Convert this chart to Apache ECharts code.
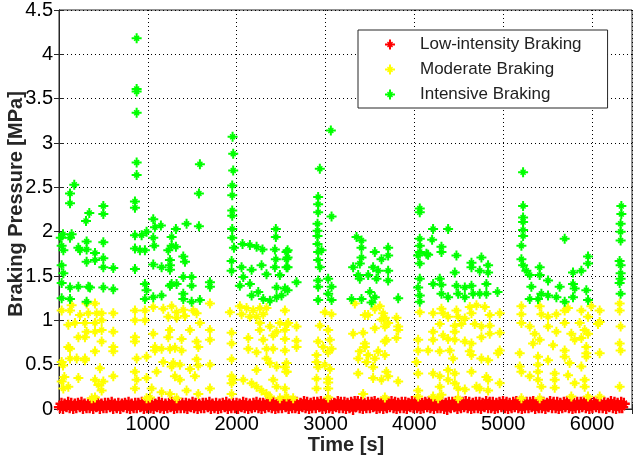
<!DOCTYPE html>
<html>
<head>
<meta charset="utf-8">
<script src="https://cdn.jsdelivr.net/npm/echarts@6/dist/echarts.min.js"></script>
<style>
html, body { margin: 0; padding: 0; background: #fff; }
#chart { width: 635px; height: 466px; }
</style>
</head>
<body>
<div id="chart"></div>
<script>
const seriesNames = ['Low-intensity Braking', 'Moderate Braking', 'Intensive Braking'];
const seriesColors = ['#ff0000', '#ffff00', '#00ff00'];
const xTicks = [1000, 2000, 3000, 4000, 5000, 6000];
const yTicks = [0, 0.5, 1, 1.5, 2, 2.5, 3, 3.5, 4, 4.5];

// low-intensity braking: dense band just above zero
const redTime = [
  10, 45, 85, 120, 160, 195, 235, 270, 310, 345, 385, 420,
  460, 500, 535, 575, 610, 650, 690, 725, 765, 800, 840, 875,
  915, 955, 990, 1030, 1065, 1105, 1140, 1180, 1220, 1255, 1295, 1330,
  1370, 1410, 1445, 1485, 1520, 1560, 1600, 1635, 1675, 1710, 1750, 1790,
  1825, 1865, 1900, 1940, 1980, 2015, 2055, 2090, 2130, 2170, 2205, 2245,
  2280, 2320, 2360, 2395, 2435, 2470, 2510, 2550, 2585, 2625, 2660, 2700,
  2740, 2775, 2815, 2850, 2890, 2930, 2965, 3005, 3040, 3080, 3120, 3155,
  3195, 3230, 3270, 3310, 3345, 3385, 3420, 3460, 3500, 3535, 3575, 3610,
  3650, 3690, 3725, 3765, 3800, 3840, 3880, 3915, 3955, 3990, 4030, 4070,
  4105, 4145, 4180, 4220, 4260, 4295, 4335, 4370, 4410, 4450, 4485, 4525,
  4560, 4600, 4640, 4675, 4715, 4750, 4790, 4830, 4865, 4905, 4940, 4980,
  5020, 5055, 5095, 5130, 5170, 5210, 5245, 5285, 5320, 5360, 5400, 5435,
  5475, 5510, 5550, 5590, 5625, 5665, 5700, 5740, 5780, 5815, 5855, 5890,
  5930, 5970, 6005, 6045, 6080, 6120, 6160, 6195, 6235, 6270, 6310, 6340
];
const redLow = [
  0.02,0.01,0.03,0.02,0.01,0.02,0.03,0.01,0.02,0.02,0.01,0.03,
  0.01,0.02,0.02,0.03,0.01,0.02,0.01,0.03,0.02,0.01,0.02,0.02,
  0.03,0.01,0.02,0.02,0.01,0.03,0.02,0.01,0.02,0.03,0.01,0.02,
  0.02,0.02,0.01,0.03,0.02,0.01,0.02,0.02,0.03,0.01,0.02,0.01,
  0.02,0.03,0.01,0.02,0.02,0.01,0.03,0.02,0.01,0.02,0.03,0.02,
  0.01,0.02,0.03,0.02,0.01,0.02,0.02,0.03,0.01,0.02,0.02,0.01,
  0.03,0.02,0.01,0.02,0.02,0.03,0.01,0.02,0.02,0.01,0.03,0.02,
  0.02,0.01,0.02,0.00,0.03,0.02,0.01,0.02,0.02,0.03,0.01,0.02,
  0.01,0.02,0.03,0.02,0.01,0.02,0.02,0.01,0.03,0.02,0.02,0.01,
  0.02,0.03,0.02,0.01,0.02,0.02,0.01,0.00,0.02,0.03,0.01,0.02,
  0.03,0.02,0.01,0.02,0.02,0.01,0.03,0.02,0.02,0.01,0.02,0.03,
  0.02,0.01,0.02,0.03,0.02,0.01,0.02,0.02,0.03,0.01,0.02,0.02,
  0.01,0.03,0.02,0.02,0.01,0.02,0.03,0.02,0.01,0.02,0.02,0.03,
  0.02,0.01,0.02,0.03,0.02,0.02,0.01,0.03,0.02,0.01,0.02,0.02
];
const redHigh = [
  0.06,0.05,0.07,0.06,0.05,0.06,0.07,0.05,0.06,0.05,0.06,0.07,
  0.05,0.06,0.06,0.07,0.05,0.06,0.05,0.06,0.07,0.05,0.06,0.06,
  0.07,0.05,0.06,0.06,0.05,0.07,0.06,0.05,0.06,0.07,0.05,0.06,
  0.06,0.06,0.05,0.07,0.06,0.05,0.06,0.06,0.07,0.05,0.06,0.05,
  0.06,0.07,0.05,0.06,0.06,0.05,0.07,0.06,0.05,0.06,0.07,0.06,
  0.06,0.07,0.08,0.07,0.06,0.07,0.07,0.08,0.06,0.07,0.07,0.06,
  0.08,0.07,0.06,0.07,0.07,0.08,0.06,0.07,0.07,0.06,0.08,0.07,
  0.07,0.06,0.07,0.08,0.08,0.07,0.06,0.07,0.07,0.08,0.06,0.07,
  0.06,0.07,0.08,0.07,0.06,0.07,0.07,0.06,0.08,0.07,0.07,0.06,
  0.07,0.08,0.07,0.06,0.07,0.07,0.06,0.07,0.07,0.08,0.06,0.07,
  0.08,0.07,0.06,0.07,0.07,0.06,0.08,0.07,0.07,0.06,0.07,0.08,
  0.07,0.06,0.07,0.08,0.07,0.06,0.07,0.07,0.08,0.06,0.07,0.07,
  0.06,0.08,0.07,0.07,0.06,0.07,0.08,0.07,0.06,0.07,0.07,0.08,
  0.07,0.06,0.07,0.08,0.07,0.07,0.06,0.08,0.07,0.06,0.07,0.06
];

// moderate braking [time s, pressure MPa]
const yellowPoints = [
  [30,1.11],[124,1.11],[142,1.17],[311,1.19],[405,1.19],[330,1.08],[424,1.08],[480,1.08],[236,1.06],[292,0.97],
  [405,0.97],[480,1.00],[611,1.08],[105,0.95],[180,0.97],[311,0.87],[405,0.87],[480,0.89],[480,0.76],[218,0.81],
  [292,0.81],[124,0.68],[105,0.70],[611,0.87],[611,0.70],[611,0.65],[405,0.65],[30,0.53],[124,0.57],[199,0.57],
  [292,0.57],[292,0.55],[218,0.35],[461,0.46],[611,0.37],[405,0.33],[499,0.31],[49,0.23],[105,0.25],[443,0.27],
  [480,0.21],[405,0.13],[368,0.12],[30,0.31],[60,0.36],[45,0.49],
  [855,1.11],[855,1.00],[967,1.11],[967,1.00],[855,0.81],[855,0.76],[874,0.57],[855,0.42],[874,0.33],[855,0.23],
  [986,0.35],[1043,0.23],[1061,1.15],[1174,1.13],[1230,1.04],[1249,0.89],[1230,0.81],[1061,0.85],[1080,0.70],[1080,0.66],
  [1155,0.68],[1249,0.68],[1174,0.53],[1268,0.48],[1099,0.42],[986,0.59],[1155,0.19],[1249,0.17],[1024,0.13],[986,0.12],
  [1268,1.16],[1324,1.09],[1399,1.12],[1511,1.11],[1549,1.08],[1418,1.05],[1324,1.03],[1699,1.19],
  [1924,1.09],[2036,1.16],[2111,1.14],[2055,1.07],[2186,1.11],[2261,1.14],[2149,1.04],[2224,1.04],[2299,1.07],[2336,1.14],
  [1586,0.97],[1474,0.89],[1699,0.89],[1699,0.78],[1549,0.76],[1380,0.79],[1249,0.89],[1943,0.86],[1943,0.74],
  [2261,0.89],[2374,0.93],[2449,0.87],[2543,0.89],[2261,0.97],[2486,0.97],[2561,0.95],
  [2131,0.80],[2299,0.78],[2411,0.83],[2131,0.68],[2224,0.64],[2336,0.68],[2411,0.68],[1380,0.66],[1568,0.70],[1305,0.69],
  [1286,0.52],[1361,0.50],[1549,0.56],[1568,0.49],[1474,0.45],[1699,0.50],[1943,0.56],
  [1305,0.37],[1361,0.33],[1530,0.37],[1943,0.37],[1961,0.33],[1943,0.29],
  [2074,0.33],[2168,0.29],[2224,0.25],[2280,0.21],[2336,0.17],[2374,0.14],
  [2224,0.44],[2336,0.57],[2374,0.52],[2449,0.48],[2561,0.52],[2561,0.42],[2411,0.33],[2449,0.25],
  [1436,0.21],[1699,0.23],[1568,0.17],[1943,0.17],[1324,0.12],[2486,0.12],[2561,0.14],
  [2543,1.11],[2580,0.97],[2674,0.93],[2543,0.79],[2674,0.77],[2674,0.70],[2543,0.66],[2543,0.47],[2561,0.42],[2543,0.23],
  [2992,1.09],[3068,1.07],[2936,0.94],[3030,0.89],[2917,0.76],[3049,0.78],[2974,0.70],[3068,0.68],[3030,0.64],
  [2899,0.61],[2899,0.53],[2917,0.47],[2992,0.50],[3049,0.45],[2899,0.34],[3030,0.34],[3030,0.30],[2899,0.23],[3030,0.23],
  [3330,1.19],[3443,1.06],[3480,1.06],[3555,1.13],[3611,1.16],[3649,1.08],[3668,1.03],[3630,1.01],[3705,0.97],[3799,1.03],
  [3818,0.89],[3555,0.91],[3668,0.93],[3668,0.76],[3686,0.78],[3799,0.80],
  [3311,0.85],[3424,0.86],[3443,0.74],[3386,0.65],[3443,0.70],[3480,0.61],[3593,0.65],[3668,0.61],[3368,0.57],[3461,0.53],
  [3555,0.57],[3536,0.47],[3686,0.42],[3368,0.40],[3536,0.35],[3630,0.33],[3705,0.37],[3818,0.31],[3818,0.93],
  [3424,0.17],[2636,0.12],[3030,0.13],[3668,0.13],
  [4061,1.09],[4211,1.08],[4305,1.13],[4324,1.08],[4380,1.04],[4474,1.11],[4493,1.04],[4568,1.02],[4624,1.15],[4643,1.08],
  [4699,1.17],[4793,1.15],[4849,1.06],[4961,1.08],
  [4286,0.96],[4455,0.94],[4530,0.96],[4680,0.96],[4755,0.93],[4849,0.94],[4961,0.86],
  [4211,0.87],[4324,0.83],[4455,0.87],[4211,0.78],[4380,0.79],[4455,0.78],[4568,0.76],[4643,0.74],[4755,0.81],[4849,0.85],
  [4043,0.78],[4043,0.66],[4024,0.53],[4155,0.66],[4286,0.65],[4399,0.66],[4436,0.57],[4624,0.65],[4643,0.61],[4755,0.57],
  [4830,0.55],[4943,0.63],[4961,0.66],
  [4043,0.40],[4211,0.40],[4380,0.44],[4455,0.40],[4643,0.42],[4830,0.33],[4811,0.36],[4699,0.25],[4961,0.29],[4830,0.21],
  [4736,0.23],[4380,0.33],[4455,0.29],[4493,0.23],[4568,0.22],[4286,0.37],[4286,0.25],
  [4043,0.21],[4043,0.14],[4211,0.14],[4305,0.16],[4493,0.12],[4268,0.12],
  [5205,1.16],[5205,1.07],[5411,1.16],[5430,1.07],[5505,1.04],[5599,1.07],[5692,1.11],[5730,1.14],[5880,1.11],[5992,1.16],
  [6086,1.11],[6086,0.98],[6067,0.96],[5955,1.04],
  [5205,0.97],[5299,0.93],[5355,0.85],[5505,0.93],[5599,0.87],[5692,0.97],[5767,0.85],[5861,0.97],[5917,0.89],[5955,0.85],
  [5336,0.74],[5411,0.78],[5561,0.72],[5692,0.66],[5805,0.78],[5880,0.80],[5936,0.70],[5692,0.59],[5936,0.63],
  [5186,0.63],[5186,0.48],[5205,0.42],[5392,0.59],[5392,0.50],[5505,0.55],[5392,0.42],[5748,0.52],[5880,0.48],[5936,0.59],
  [5299,0.37],[5392,0.33],[5580,0.40],[5580,0.33],[5730,0.38],[5805,0.29],[5917,0.33],[5917,0.25],[5430,0.25],[5580,0.24],
  [6086,0.63],[6311,1.19],[6311,1.11],[6322,0.93],[6311,0.74],[6322,0.66],[6311,0.25],
  [5205,0.12],[5411,0.12],[5767,0.14],[5955,0.14],[6086,0.14]
];

// intensive braking [time s, pressure MPa]
const greenPoints = [
  [30,1.84],[49,1.79],[20,1.93],[45,1.97],[142,1.97],[124,1.93],[30,1.62],[49,1.53],[30,1.42],[30,1.25],
  [124,1.24],[124,1.37],[218,1.38],[330,1.38],[349,1.37],[499,1.37],[611,1.35],[311,1.21],
  [172,2.53],[124,2.43],[124,2.32],[499,2.29],[499,2.20],[341,2.21],[304,2.12],
  [218,1.82],[236,1.79],[311,1.89],[311,1.80],[499,1.88],[405,1.76],[311,1.66],[405,1.68],[499,1.70],[499,1.60],[611,1.59],
  [874,4.18],[874,3.61],[874,3.58],[874,3.34],[874,2.78],[874,2.64],[855,2.34],[855,2.27],
  [855,1.96],[930,1.96],[986,2.00],[855,1.81],[911,1.79],[967,1.79],[855,1.58],
  [1061,2.14],[1080,2.05],[1147,2.07],[1061,1.93],[1072,1.84],[1230,1.79],[1249,1.68],[1268,1.94],
  [1061,1.63],[1155,1.60],[1249,1.62],[1249,1.57],[967,1.41],[986,1.34],[967,1.24],[1061,1.26],[1155,1.28],[1268,1.41],
  [1586,2.76],[1575,2.43],[1436,2.09],[1575,2.06],[1316,2.03],
  [1954,3.07],[1961,2.88],[1961,2.69],[1950,2.52],[1950,2.41],[1950,2.24],[1950,2.18],[1950,2.03],[1950,1.93],[1969,1.82],
  [2441,2.03],[2441,1.94],[2066,1.86],[2149,1.85],[2224,1.83],[2291,1.80],[2430,1.80],[2441,1.69],[2561,1.77],[2561,1.69],
  [1268,1.84],[1316,1.83],[1399,1.72],[1418,1.66],
  [1943,1.67],[1943,1.56],[2055,1.60],[2074,1.49],[2168,1.57],[2280,1.62],[2430,1.60],[2561,1.60],[2336,1.52],[2486,1.51],
  [1249,1.39],[1324,1.41],[1399,1.49],[1493,1.49],[1493,1.39],[1699,1.43],[1699,1.38],[1399,1.30],[1399,1.24],[1493,1.21],[1586,1.23],
  [2036,1.39],[2149,1.41],[2168,1.28],[2243,1.32],[2299,1.24],[2374,1.22],[2449,1.26],[2449,1.37],[2543,1.36],[2505,1.28],
  [2936,2.71],[2917,2.39],[2917,2.31],[2917,2.22],[3068,2.17],[3060,3.14],[2910,2.09],[2910,2.01],[2910,1.95],[2910,1.86],
  [2573,1.79],[2573,1.71],[2573,1.60],[2917,1.77],[2955,1.79],[2917,1.68],[2936,1.60],
  [3349,1.94],[3405,1.90],[3405,1.82],[3405,1.71],[3386,1.64],[3555,1.77],[3630,1.69],[3705,1.82],[3705,1.73],
  [3311,1.60],[3368,1.51],[3386,1.47],[3480,1.51],[3536,1.60],[3593,1.56],[3574,1.47],[3705,1.56],[3705,1.45],
  [2674,1.43],[2573,1.34],[2917,1.45],[2917,1.38],[3030,1.47],[3068,1.38],[3030,1.30],[2917,1.23],[3068,1.23],
  [3293,1.24],[3405,1.24],[3499,1.32],[3555,1.26],[3818,1.25],[3518,1.20],
  [4061,2.26],[4061,2.22],[4211,2.03],[4380,2.03],[4061,1.92],[4061,1.84],[4061,1.77],[4155,1.74],[4061,1.64],[4200,1.91],
  [4305,1.83],[4305,1.77],[4043,1.73],[4136,1.75],
  [4474,1.73],[4643,1.65],[4643,1.60],[4755,1.71],[4736,1.56],[4830,1.62],[4830,1.54],
  [4061,1.47],[4043,1.37],[4061,1.28],[4061,1.21],[4211,1.41],[4286,1.47],[4305,1.40],[4305,1.30],[4380,1.26],[4455,1.54],
  [4474,1.39],[4493,1.30],[4568,1.37],[4568,1.26],[4643,1.39],[4661,1.30],[4736,1.30],[4811,1.41],[4811,1.30],[4936,1.32],
  [5224,2.67],[5224,2.29],[5224,2.16],[5224,2.11],[5224,2.02],[5224,1.95],[5205,1.84],[5205,1.69],[5224,1.62],[5261,1.56],[5299,1.51],
  [5692,1.92],[5955,1.72],[5955,1.64],[5411,1.60],[5411,1.51],[5505,1.45],[5636,1.38],[5786,1.54],[5880,1.56],[5786,1.41],[5805,1.36],
  [5317,1.38],[5430,1.30],[5505,1.28],[5599,1.26],[5692,1.21],[5786,1.26],[5936,1.34],[5955,1.23],[5299,1.24],[5392,1.24],
  [6330,2.29],[6330,2.20],[6322,2.09],[6322,2.00],[6322,1.90],[6311,1.67],[6322,1.62],[6322,1.53],[6322,1.47],[6311,1.42],[6322,1.30]
];

const redPoints = [];
redTime.forEach((t, i) => {
  redPoints.push([t, redLow[i]]);
  redPoints.push([t + 18, redHigh[i]]);
});

// matlab-ish '*' marker
const starSymbol = 'path://M8 0H12V20H8Z M0 8H20V12H0Z M4 6L6 4L16 14L14 16Z M14 4L16 6L6 16L4 14Z';
const font = '"Liberation Sans", Arial, sans-serif';

const chart = echarts.init(document.getElementById('chart'));

const axisCommon = {
  min: 0,
  axisLine: { show: true, lineStyle: { color: '#262626', width: 1 } },
  axisTick: { show: true, inside: true, length: 5, lineStyle: { color: '#262626' } }
};

chart.setOption({
  animation: false,
  backgroundColor: '#fff',
  grid: { left: 59, right: 2, top: 9, bottom: 57, show: true, borderColor: '#262626', borderWidth: 1, backgroundColor: '#fff' },
  xAxis: [
    Object.assign({}, axisCommon, {
      type: 'value', max: 6450, interval: 1000, position: 'bottom',
      axisLabel: {
        color: '#000', fontSize: 20, fontFamily: font, margin: 5,
        formatter: v => (xTicks.indexOf(v) >= 0 ? String(v) : '')
      },
      splitLine: { show: true, lineStyle: { color: '#000', type: [1, 3], width: 1 } }
    }),
    Object.assign({}, axisCommon, {
      type: 'value', max: 6450, interval: 1000, position: 'top',
      axisLabel: { show: false }, splitLine: { show: false }
    })
  ],
  yAxis: [
    Object.assign({}, axisCommon, {
      type: 'value', max: 4.5, interval: 0.5, position: 'left',
      axisLabel: {
        color: '#000', fontSize: 20, fontFamily: font, margin: 6,
        formatter: v => (yTicks.indexOf(v) >= 0 ? String(v) : '')
      },
      splitLine: { show: true, lineStyle: { color: '#000', type: [1, 3], width: 1 } }
    }),
    Object.assign({}, axisCommon, {
      type: 'value', max: 4.5, interval: 0.5, position: 'right',
      axisLabel: { show: false }, splitLine: { show: false }
    })
  ],
  legend: {
    orient: 'vertical',
    left: 358,
    top: 30,
    padding: [6, 26, 5, 27],
    itemWidth: 50,
    itemHeight: 10,
    itemGap: 8,
    backgroundColor: '#fff',
    borderColor: '#262626',
    borderWidth: 1,
    borderRadius: 0,
    textStyle: { color: '#222', fontSize: 17, fontFamily: font },
    data: seriesNames
  },
  graphic: [
    {
      type: 'text', x: 346, y: 445,
      style: { text: 'Time [s]', font: 'bold 20px ' + font, fill: '#262626',
        textAlign: 'center', textVerticalAlign: 'middle', align: 'center', verticalAlign: 'middle' }
    },
    {
      type: 'text', x: 16, y: 204, rotation: Math.PI / 2,
      style: { text: 'Braking Pressure [MPa]', font: 'bold 20px ' + font, fill: '#262626',
        textAlign: 'center', textVerticalAlign: 'middle', align: 'center', verticalAlign: 'middle' }
    }
  ],
  series: [
    { name: seriesNames[0], type: 'scatter', data: redPoints, symbolSize: 12 },
    { name: seriesNames[1], type: 'scatter', data: yellowPoints, symbolSize: 10 },
    { name: seriesNames[2], type: 'scatter', data: greenPoints, symbolSize: 10 }
  ].map((s, i) => Object.assign(s, {
    symbol: starSymbol,
    symbolKeepAspect: true,
    itemStyle: { color: seriesColors[i], opacity: 1 },
    emphasis: { disabled: true }
  }))
});
</script>
</body>
</html>
